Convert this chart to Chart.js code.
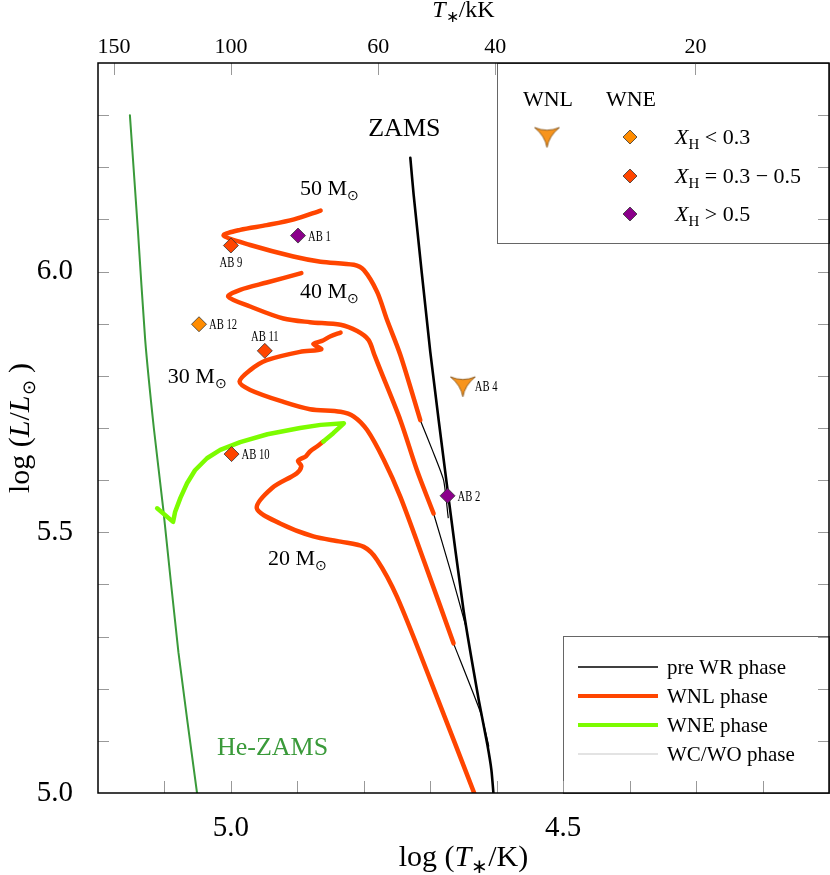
<!DOCTYPE html>
<html>
<head>
<meta charset="utf-8">
<script src="https://cdn.jsdelivr.net/npm/chart.js@4.4.1/dist/chart.umd.min.js"></script>
<style>
html, body { margin: 0; padding: 0; background: #fff; }
#wrap { width: 830px; height: 875px; position: relative; }
</style>
</head>
<body>
<div id="wrap"><canvas id="hrd"></canvas></div>
<script>
// ---- values, as [log T*, log L] pairs ----
var heZams = [[5.152, 6.300], [5.140, 6.080], [5.129, 5.869], [5.116, 5.700], [5.102, 5.547], [5.079, 5.270], [5.051, 5.000]];
var zams = [[4.730, 6.218], [4.725, 6.147], [4.700, 5.846], [4.674, 5.581], [4.650, 5.351], [4.627, 5.178], [4.614, 5.092], [4.608, 5.044], [4.605, 5.000], [4.604, 4.980]];

// pre WR phase (thin black), from ZAMS to start of WNL
var preWR50 = [[4.673, 5.528], [4.680, 5.600], [4.697, 5.658], [4.715, 5.715]];
var preWR40 = [[4.647, 5.322], [4.670, 5.428], [4.695, 5.536]];
var preWR30 = [[4.612, 5.090], [4.624, 5.153], [4.665, 5.287]];

// WNL phase (orange)
var wnl50 = [[4.715, 5.715], [4.745, 5.840], [4.765, 5.907], [4.780, 5.961], [4.800, 6.003], [4.815, 6.013], [4.865, 6.019], [4.906, 6.029], [4.971, 6.051], [5.011, 6.069], [4.986, 6.080], [4.946, 6.089], [4.905, 6.100], [4.865, 6.117]];
var wnl40 = [[4.695, 5.536], [4.720, 5.619], [4.745, 5.715], [4.775, 5.811], [4.784, 5.840], [4.793, 5.869], [4.810, 5.886], [4.835, 5.898], [4.881, 5.903], [4.921, 5.910], [4.971, 5.933], [5.004, 5.952], [4.986, 5.965], [4.946, 5.979], [4.894, 5.997]];
var wnl30 = [[4.665, 5.287], [4.710, 5.447], [4.745, 5.568], [4.770, 5.639], [4.795, 5.696], [4.815, 5.722], [4.835, 5.731], [4.881, 5.736], [4.921, 5.750], [4.971, 5.773], [4.987, 5.789], [4.971, 5.811], [4.946, 5.830], [4.896, 5.846], [4.864, 5.851], [4.876, 5.861], [4.863, 5.867], [4.850, 5.876], [4.835, 5.883]];
var wnl20 = [[4.627, 4.977], [4.700, 5.217], [4.750, 5.376], [4.780, 5.447], [4.800, 5.472], [4.835, 5.482], [4.876, 5.492], [4.926, 5.517], [4.961, 5.546], [4.938, 5.585], [4.901, 5.613], [4.894, 5.627], [4.899, 5.637], [4.887, 5.646], [4.881, 5.655], [4.870, 5.665], [4.861, 5.674]];

// WNE phase (green), 20 Msun only
var wne20 = [[4.861, 5.674], [4.846, 5.690], [4.830, 5.709], [4.865, 5.706], [4.896, 5.700], [4.945, 5.688], [4.986, 5.673], [5.016, 5.658], [5.036, 5.642], [5.054, 5.619], [5.066, 5.594], [5.076, 5.566], [5.084, 5.539], [5.087, 5.520], [5.111, 5.546]];

// observed stars
var starNames = ['AB 1', 'AB 2', 'AB 4', 'AB 9', 'AB 10', 'AB 11', 'AB 12'];
var starLogT = [4.899, 4.674, 4.651, 5.000, 4.999, 4.949, 5.048];
var starLogL = [6.069, 5.570, 5.780, 6.050, 5.650, 5.848, 5.899];
var starGroup = ['hi', 'hi', 'wnl', 'mid', 'mid', 'mid', 'lo'];

// axis ticks
var bottomTickLabels = [5.0, 4.5];
var leftTickLabels = [5.0, 5.5, 6.0];
var topTicksKK = [150, 100, 60, 40, 20];

var SERIF = '"Liberation Serif", "Times New Roman", serif';
var ORANGERED = '#ff4500';
var LAWN = '#7cfc00';
var GRASS = '#3a9a3a';
var ORANGE = '#ff8c00';
var PURPLE = '#8b008b';

function font(size, italic) {
    return (italic ? 'italic ' : '') + size + 'px ' + SERIF;
}

function pts(arr) {
    return arr.map(function(p) { return { x: p[0], y: p[1] }; });
}

// the WNL "Y" shaped marker
function makeYMarker(w, h) {
    var c = document.createElement('canvas');
    c.width = w;
    c.height = h;
    var g = c.getContext('2d');
    g.beginPath();
    g.moveTo(1, 2);
    g.quadraticCurveTo(w / 2, h * 0.32, w - 1, 2);
    g.quadraticCurveTo(w / 2 + 2, h * 0.45, w / 2, h - 1);
    g.quadraticCurveTo(w / 2 - 2, h * 0.45, 1, 2);
    g.closePath();
    g.fillStyle = '#f7941d';
    g.fill();
    g.lineWidth = 0.8;
    g.strokeStyle = '#7a4a10';
    g.stroke();
    return c;
}
var yMarker = makeYMarker(27, 23);

function drawParts(ctx, parts, x, y, align) {
    var widths = parts.map(function(p) {
        ctx.font = p[1];
        return ctx.measureText(p[0]).width;
    });
    var total = widths.reduce(function(a, b) { return a + b; }, 0);
    var cx = align === 'center' ? x - total / 2 : (align === 'right' ? x - total : x);
    ctx.textAlign = 'left';
    ctx.textBaseline = 'alphabetic';
    parts.forEach(function(p, i) {
        ctx.font = p[1];
        ctx.fillText(p[0], cx, y + (p[2] || 0));
        cx += widths[i];
    });
}

function diamond(ctx, x, y, r, fill) {
    ctx.beginPath();
    ctx.moveTo(x, y - r);
    ctx.lineTo(x + r, y);
    ctx.lineTo(x, y + r);
    ctx.lineTo(x - r, y);
    ctx.closePath();
    ctx.fillStyle = fill;
    ctx.fill();
    ctx.lineWidth = 0.8;
    ctx.strokeStyle = '#333';
    ctx.stroke();
}

// text placed in data coordinates
var trackLabels = [
    { mass: '50', x: 4.896, y: 6.147 },
    { mass: '40', x: 4.896, y: 5.949 },
    { mass: '30', x: 5.095, y: 5.786 },
    { mass: '20', x: 4.944, y: 5.437 }
];
var starLabelSide = { 'AB 9': 'below', 'AB 11': 'above' };

function starDataset(group, color) {
    var d = [];
    starGroup.forEach(function(g, i) {
        if (g === group) d.push({ x: starLogT[i], y: starLogL[i] });
    });
    return {
        data: d, showLine: false, pointStyle: 'rectRot', pointRadius: 7.5,
        backgroundColor: color, borderColor: '#333', borderWidth: 0.8, order: 0
    };
}

function track(data, color, width, order, tension) {
    return {
        data: pts(data), showLine: true, pointRadius: 0, borderColor: color,
        borderWidth: width, tension: tension, order: order,
        borderCapStyle: 'round', borderJoinStyle: 'round', fill: false
    };
}

var decor = {
    id: 'decor',
    afterDatasetsDraw: function(chart) {
        var ctx = chart.ctx, sx = chart.scales.x, sy = chart.scales.y;
        ctx.save();
        ctx.fillStyle = '#000';
        trackLabels.forEach(function(t) {
            drawParts(ctx, [[t.mass + ' M', font(22)], ['\u2299', font(14), 5]],
                sx.getPixelForValue(t.x), sy.getPixelForValue(t.y), 'left');
        });
        drawParts(ctx, [['ZAMS', font(26)]], sx.getPixelForValue(4.739), sy.getPixelForValue(6.260), 'center');
        ctx.fillStyle = GRASS;
        drawParts(ctx, [['He-ZAMS', font(26)]], sx.getPixelForValue(5.021), sy.getPixelForValue(5.073), 'left');

        // star names, slightly condensed as in the original
        ctx.fillStyle = '#000';
        ctx.font = font(14);
        ctx.textBaseline = 'alphabetic';
        starNames.forEach(function(n, i) {
            var px = sx.getPixelForValue(starLogT[i]), py = sy.getPixelForValue(starLogL[i]);
            var side = starLabelSide[n] || 'right';
            ctx.save();
            if (side === 'right') {
                ctx.translate(px + (n === 'AB 4' ? 12 : 10), py + 5);
                ctx.textAlign = 'left';
            } else if (side === 'below') {
                ctx.translate(px, py + 21);
                ctx.textAlign = 'center';
            } else {
                ctx.translate(px, py - 10);
                ctx.textAlign = 'center';
            }
            ctx.scale(0.76, 1);
            ctx.fillText(n, 0, 0);
            ctx.restore();
        });
        ctx.restore();
    },
    afterDraw: function(chart) {
        var ctx = chart.ctx, a = chart.chartArea;
        var sx = chart.scales.x, sy = chart.scales.y, st = chart.scales.x2;
        ctx.save();

        // star legend box (top right)
        var b1 = { l: 497, t: a.top, r: a.right, b: 243 };
        ctx.fillStyle = '#fff';
        ctx.fillRect(b1.l, b1.t, b1.r - b1.l, b1.b - b1.t);
        ctx.strokeStyle = '#666';
        ctx.lineWidth = 1;
        ctx.strokeRect(b1.l + 0.5, b1.t + 0.5, b1.r - b1.l, b1.b - b1.t);
        ctx.fillStyle = '#000';
        drawParts(ctx, [['WNL', font(22)]], 548, 106, 'center');
        drawParts(ctx, [['WNE', font(22)]], 631, 106, 'center');
        ctx.drawImage(yMarker, 547 - yMarker.width / 2, 137 - yMarker.height / 2);
        var rows = [
            [ORANGE, 137, ' < 0.3'],
            [ORANGERED, 176, ' = 0.3 \u2212 0.5'],
            [PURPLE, 214, ' > 0.5']
        ];
        rows.forEach(function(r) {
            diamond(ctx, 630, r[1], 7, r[0]);
            ctx.fillStyle = '#000';
            drawParts(ctx, [['X', font(22, true)], ['H', font(15), 5], [r[2], font(22)]], 675, r[1] + 7, 'left');
        });

        // phase legend box (bottom right)
        var b2 = { l: 563, t: 636, r: a.right, b: a.bottom };
        ctx.fillStyle = '#fff';
        ctx.fillRect(b2.l, b2.t, b2.r - b2.l, b2.b - b2.t);
        ctx.strokeStyle = '#666';
        ctx.lineWidth = 1;
        ctx.strokeRect(b2.l + 0.5, b2.t + 0.5, b2.r - b2.l, b2.b - b2.t);
        var phases = [
            ['pre WR phase', '#000', 1.5, 667],
            ['WNL phase', ORANGERED, 4, 696],
            ['WNE phase', LAWN, 4, 725],
            ['WC/WO phase', '#c8c8c8', 1.2, 754]
        ];
        phases.forEach(function(p) {
            ctx.beginPath();
            ctx.moveTo(578, p[3]);
            ctx.lineTo(658, p[3]);
            ctx.strokeStyle = p[1];
            ctx.lineWidth = p[2];
            ctx.lineCap = 'butt';
            ctx.stroke();
            ctx.fillStyle = '#000';
            drawParts(ctx, [[p[0], font(21)]], 667, p[3] + 7, 'left');
        });

        // inward tick marks on all four sides
        ctx.strokeStyle = '#999';
        ctx.lineWidth = 1;
        ctx.beginPath();
        var v, px, py;
        for (v = 42; v <= 51; v++) {
            px = Math.round(sx.getPixelForValue(v / 10)) + 0.5;
            ctx.moveTo(px, a.bottom);
            ctx.lineTo(px, a.bottom - 12);
        }
        topTicksKK.forEach(function(k) {
            px = Math.round(st.getPixelForValue(Math.log10(k * 1000))) + 0.5;
            ctx.moveTo(px, a.top);
            ctx.lineTo(px, a.top + 12);
        });
        for (v = 51; v <= 63; v++) {
            py = Math.round(sy.getPixelForValue(v / 10)) + 0.5;
            ctx.moveTo(a.left, py);
            ctx.lineTo(a.left + 11, py);
            ctx.moveTo(a.right, py);
            ctx.lineTo(a.right - 11, py);
        }
        ctx.stroke();

        // frame
        ctx.strokeStyle = '#000';
        ctx.lineWidth = 1.5;
        ctx.strokeRect(a.left, a.top, a.right - a.left, a.bottom - a.top);

        // axis titles
        ctx.fillStyle = '#000';
        var cx = (a.left + a.right) / 2;
        drawParts(ctx, [['log (', font(30)], ['T', font(30, true)], ['\u2217', font(20), 7], ['/K)', font(30)]], cx, 866, 'center');
        drawParts(ctx, [['T', font(24, true)], ['\u2217', font(16), 5], ['/kK', font(24)]], cx, 17, 'center');
        ctx.translate(29, (a.top + a.bottom) / 2);
        ctx.rotate(-Math.PI / 2);
        drawParts(ctx, [['log (', font(30)], ['L', font(30, true)], ['/', font(30)], ['L', font(30, true)], ['\u2299', font(18), 6], [' )', font(30)]], 0, 0, 'center');
        ctx.restore();
    }
};

var datasets = [
    track(heZams, GRASS, 2, 5, 0.2),
    track(zams, '#000', 2.6, 4, 0.2),
    track(preWR50, '#000', 1.2, 4, 0.2),
    track(preWR40, '#000', 1.2, 4, 0.2),
    track(preWR30, '#000', 1.2, 4, 0.2),
    track(wnl50, ORANGERED, 4.5, 3, 0.3),
    track(wnl40, ORANGERED, 4.5, 3, 0.3),
    track(wnl30, ORANGERED, 4.5, 3, 0.3),
    track(wnl20, ORANGERED, 4.5, 3, 0.3),
    track(wne20, LAWN, 4.5, 2, 0),
    starDataset('hi', PURPLE),
    starDataset('mid', ORANGERED),
    starDataset('lo', ORANGE),
    {
        data: starGroup.map(function(g, i) { return g === 'wnl' ? { x: starLogT[i], y: starLogL[i] } : null; }).filter(Boolean),
        showLine: false, pointStyle: yMarker, pointRadius: 10, order: 0
    }
];

var chart = new Chart(document.getElementById('hrd'), {
    type: 'scatter',
    data: { datasets: datasets },
    options: {
        responsive: true,
        maintainAspectRatio: false,
        animation: false,
        layout: { autoPadding: false, padding: { left: 0, right: 1, top: 0, bottom: 0 } },
        plugins: { legend: { display: false }, tooltip: { enabled: false } },
        scales: {
            x: {
                type: 'linear', position: 'bottom', min: 4.1, max: 5.2, reverse: true,
                grid: { display: false }, border: { display: false },
                afterBuildTicks: function(s) {
                    s.ticks = bottomTickLabels.map(function(v) { return { value: v }; });
                },
                ticks: {
                    color: '#000', font: { family: SERIF, size: 29 }, padding: 10,
                    maxRotation: 0, autoSkip: false,
                    callback: function(v) { return Number(v).toFixed(1); }
                },
                afterFit: function(s) { s.height = 82; }
            },
            x2: {
                type: 'linear', position: 'top', min: 4.1, max: 5.2, reverse: true,
                grid: { display: false }, border: { display: false },
                afterBuildTicks: function(s) {
                    s.ticks = topTicksKK.map(function(k) { return { value: Math.log10(k * 1000) }; });
                },
                ticks: {
                    color: '#000', font: { family: SERIF, size: 22 }, padding: -5,
                    maxRotation: 0, autoSkip: false,
                    callback: function(v) { return String(Math.round(Math.pow(10, v) / 1000)); }
                },
                afterFit: function(s) { s.height = 63; }
            },
            y: {
                type: 'linear', position: 'left', min: 5.0, max: 6.4,
                grid: { display: false }, border: { display: false },
                afterBuildTicks: function(s) {
                    s.ticks = leftTickLabels.map(function(v) { return { value: v }; });
                },
                ticks: {
                    color: '#000', font: { family: SERIF, size: 29 }, padding: 17,
                    callback: function(v) { return Number(v).toFixed(1); }
                },
                afterFit: function(s) { s.width = 98; }
            }
        }
    },
    plugins: [decor]
});
</script>
</body>
</html>
